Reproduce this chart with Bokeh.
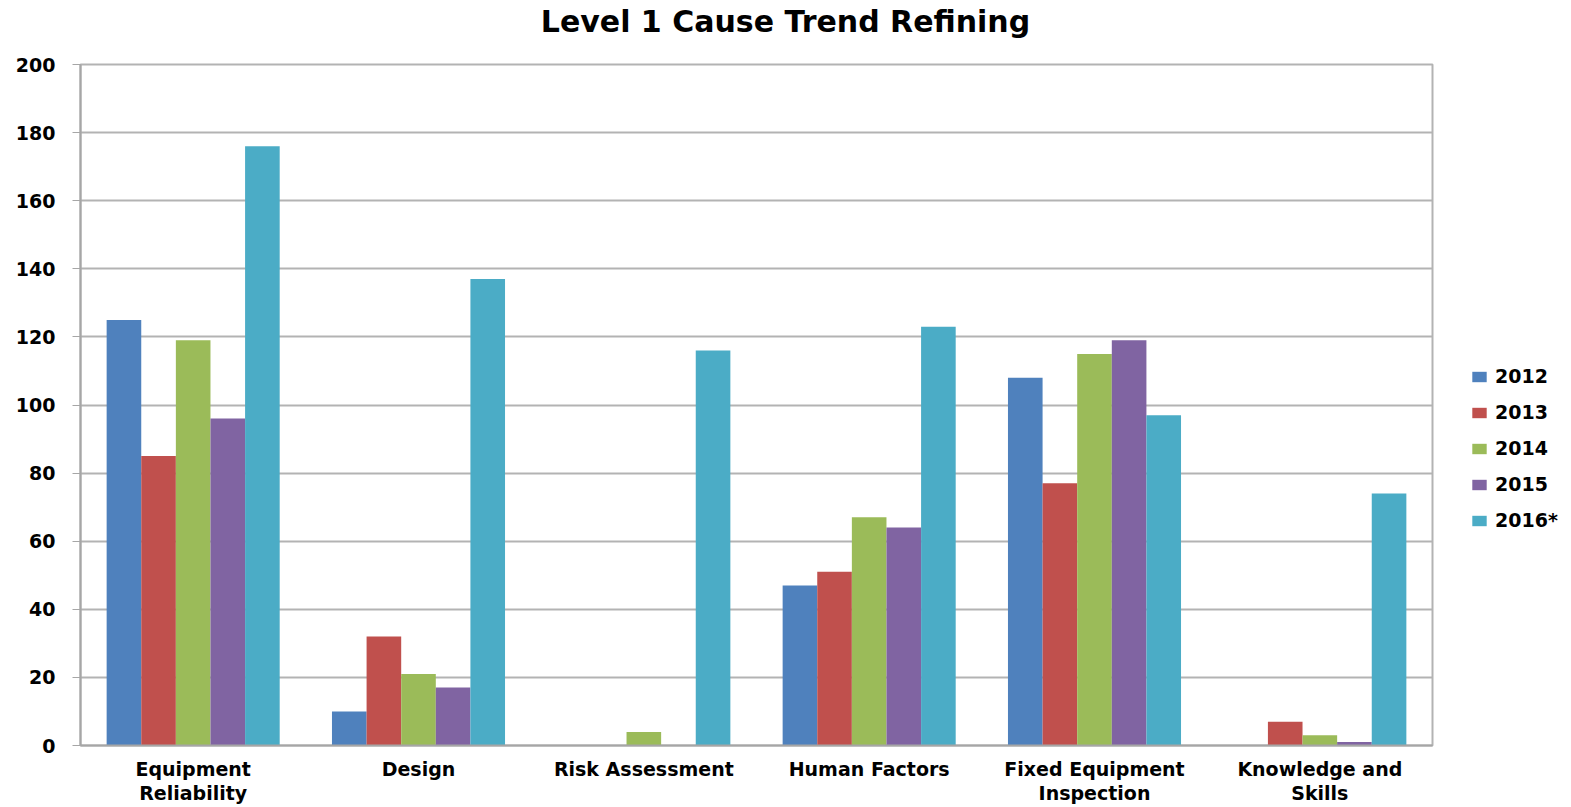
from bokeh.plotting import figure
from bokeh.models import FactorRange, Range1d, Legend, LegendItem, FixedTicker, Div
from bokeh.layouts import column, row
from bokeh.transform import dodge
from bokeh.embed import file_html
from bokeh.resources import INLINE
from bokeh.models import ColumnDataSource

title_text = "Level 1 Cause Trend Refining"
categories = ["Equipment\nReliability", "Design", "Risk Assessment", "Human Factors",
              "Fixed Equipment\nInspection", "Knowledge and\nSkills"]
years = ["2012", "2013", "2014", "2015", "2016*"]
v2012 = [125, 10, 0, 47, 108, 0]
v2013 = [85, 32, 0, 51, 77, 7]
v2014 = [119, 21, 4, 67, 115, 3]
v2015 = [96, 17, 0, 64, 119, 1]
v2016 = [176, 137, 116, 123, 97, 74]
colors = ["#4F81BD", "#C0504D", "#9BBB59", "#8064A2", "#4BACC6"]
y_ticks = list(range(0, 201, 20))

series = [v2012, v2013, v2014, v2015, v2016]
src = ColumnDataSource(dict(cat=categories, **{f"s{i}": s for i, s in enumerate(series)}))

W = 1571
TH = 44
H = 807 - TH
FRAME_TOP, FRAME_BOTTOM, FRAME_LEFT, FRAME_RIGHT = 64, 745, 80, 1432
PW = FRAME_RIGHT + 8

head = Div(text=title_text, width=W, height=TH, margin=0,
           styles={"font-family": "DejaVu Sans", "font-weight": "bold",
                   "font-size": "30px", "line-height": f"{TH}px",
                   "text-align": "center", "color": "#000000", "width": f"{W}px"})

p = figure(width=PW, height=H, x_range=FactorRange(*categories), y_range=Range1d(0, 200),
           output_backend="svg", toolbar_location=None, margin=0,
           min_border_left=FRAME_LEFT, min_border_right=PW - FRAME_RIGHT,
           min_border_top=FRAME_TOP - TH, min_border_bottom=807 - FRAME_BOTTOM)

bw = 0.1536
offsets = [-2 * bw, -bw, 0, bw, 2 * bw]
for i, c in enumerate(colors):
    p.vbar(x=dodge("cat", offsets[i], range=p.x_range), top=f"s{i}", width=bw,
           source=src, fill_color=c, line_color=None)

p.xgrid.grid_line_color = None
p.ygrid.grid_line_color = "#B3B3B3"
p.ygrid.grid_line_width = 2
p.ygrid.ticker = FixedTicker(ticks=y_ticks)
p.outline_line_color = "#B3B3B3"
p.outline_line_width = 2

p.yaxis.ticker = FixedTicker(ticks=y_ticks)
p.yaxis.axis_line_color = "#A6A6A6"
p.yaxis.axis_line_width = 2
p.yaxis.major_tick_line_color = "#A6A6A6"
p.yaxis.major_tick_out = 8
p.yaxis.major_tick_in = 0
p.yaxis.minor_tick_line_color = None
p.yaxis.major_label_standoff = 17
p.yaxis.major_label_text_font = "DejaVu Sans"
p.yaxis.major_label_text_font_style = "bold"
p.yaxis.major_label_text_font_size = "19px"
p.yaxis.major_label_text_color = "#000000"

p.xaxis.axis_line_color = "#A6A6A6"
p.xaxis.axis_line_width = 2
p.xaxis.major_tick_line_color = None
p.xaxis.major_label_standoff = 6
p.xaxis.major_label_text_font = "DejaVu Sans"
p.xaxis.major_label_text_font_style = "bold"
p.xaxis.major_label_text_font_size = "19px"
p.xaxis.major_label_text_color = "#000000"
p.xaxis.major_label_text_line_height = 1.1

# legend panel (separate figure so the legend is not clipped by the bar frame)
LW = W - PW
lp = figure(width=LW, height=H, x_range=FactorRange(*categories), y_range=Range1d(0, 200),
            output_backend="svg", toolbar_location=None, margin=0,
            min_border_left=0, min_border_right=0, min_border_top=0, min_border_bottom=0)
lp.axis.visible = False
lp.grid.grid_line_color = None
lp.outline_line_color = None
items = []
for i, (yr, c) in enumerate(zip(years, colors)):
    r = lp.vbar(x=dodge("cat", offsets[i], range=lp.x_range), top=f"s{i}", width=bw,
                source=src, fill_color=c, line_color=None, visible=False)
    items.append(LegendItem(label=yr, renderers=[r]))

legend = Legend(items=items, location=(1470 - PW, 214), padding=0, margin=0,
                border_line_color=None, background_fill_alpha=0,
                inactive_fill_alpha=0,
                glyph_width=18, glyph_height=13, label_height=20, spacing=14,
                label_standoff=7, label_text_font="DejaVu Sans",
                label_text_font_style="bold", label_text_font_size="19px",
                label_text_color="#000000")
lp.add_layout(legend, "center")

layout = column(head, row(p, lp, spacing=0, margin=0), spacing=0, margin=0)
open("out.html", "w").write(file_html(layout, INLINE))
